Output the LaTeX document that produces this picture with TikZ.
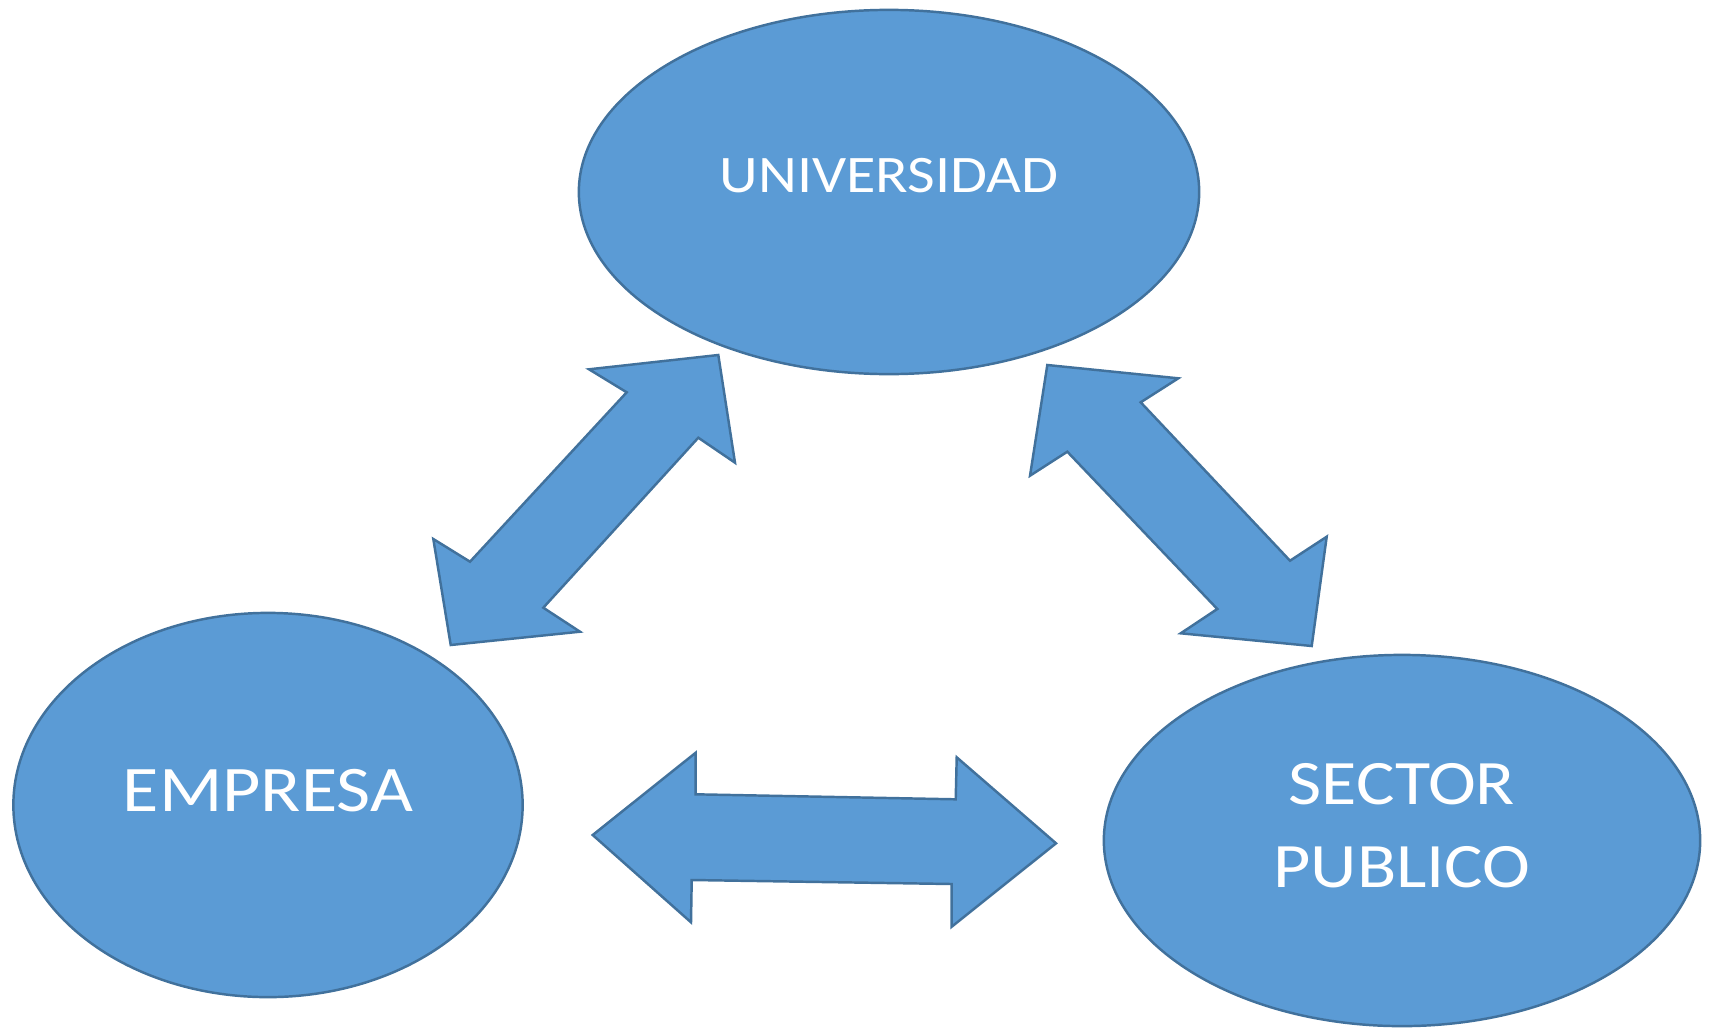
\documentclass[tikz,border=0pt]{standalone}
\usepackage{fontspec}
\setmainfont{Carlito}[FakeStretch=1.14]
\usepackage{tikz}
\usetikzlibrary{shapes.geometric}

\definecolor{azul}{HTML}{5B9BD5}
\definecolor{borde}{HTML}{41719C}

\begin{document}
\begin{tikzpicture}[x=0.01cm, y=-0.01cm,
  blob/.style={ellipse, draw=borde, fill=azul, line width=0.7pt, inner sep=0pt},
  flecha/.style={draw=borde, fill=azul, line width=0.7pt, line join=miter},
  txt/.style={text=white, align=center, inner sep=0pt}]
  \useasboundingbox (0,0) rectangle (1713,1027);
  %the three ellipses
  \node[blob, minimum width=6.2cm, minimum height=3.64cm] (u) at (889,192) {};
  \node[blob, minimum width=5.09cm, minimum height=3.84cm] (e) at (268,805) {};
  \node[blob, minimum width=5.96cm, minimum height=3.71cm] (s) at (1402,840.5) {};
  %labels (a bit above the centre, like the original)
  \node[txt, font=\fontsize{15}{18}\selectfont] at ([yshift=0.16cm]u.center) {UNIVERSIDAD};
  \node[txt, font=\fontsize{18.5}{22}\selectfont] at ([yshift=0.14cm]e.center) {EMPRESA};
  \node[txt, font=\fontsize{18}{23.5}\selectfont] at ([yshift=0.145cm]s.center) {SECTOR\\PUBLICO};
  %arrow universidad <-> empresa
  \draw[flecha] (718.3,355) -- (735,462.7) -- (698.3,437.7) -- (543.3,607.7)
    -- (580,631.7) -- (450.7,645) -- (433.3,539) -- (470,561.7)
    -- (626.7,392.3) -- (589,369.3) -- cycle;
  %arrow universidad <-> sector publico
  \draw[flecha] (1047.3,365) -- (1178.3,378.3) -- (1140.7,402.3) -- (1290,560.7)
    -- (1326.7,536.7) -- (1311.7,646) -- (1180.7,633.3) -- (1217.3,609)
    -- (1067.3,451.7) -- (1030,475.7) -- cycle;
  %arrow empresa <-> sector publico
  \draw[flecha] (592.7,835) -- (695.7,752.7) -- (695.7,794.3) -- (955.7,799.3)
    -- (956.7,757.3) -- (1056,843.3) -- (951.7,926.7) -- (951.7,884)
    -- (691.7,880) -- (691,922.3) -- cycle;
\end{tikzpicture}
\end{document}
